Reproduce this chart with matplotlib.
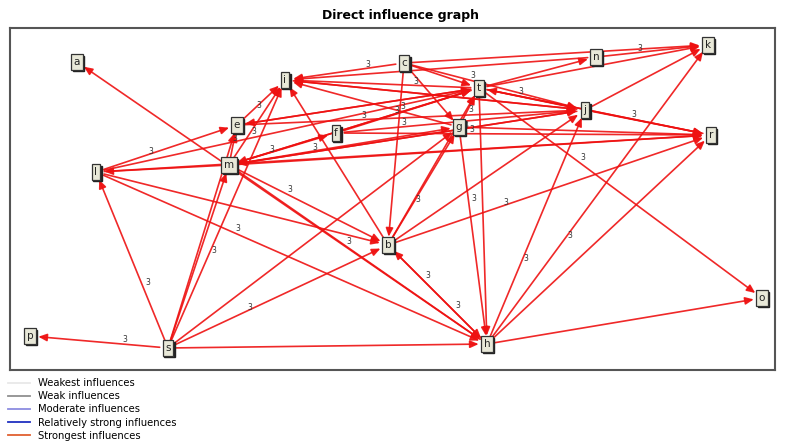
import matplotlib
matplotlib.use("Agg")
import matplotlib.pyplot as plt
from matplotlib.lines import Line2D

# node layout (pixel coordinates of the original drawing)
nodes = ["a", "i", "c", "n", "k", "t", "j", "g", "r", "e", "f", "m", "l", "b", "o", "p", "s", "h"]
node_x = [77, 285, 404, 596, 708, 479, 585, 459, 711, 237, 336, 229, 96, 388, 762, 30, 168, 487]
node_y = [62, 80, 63, 57, 45, 88, 110, 127, 135, 125, 133, 165, 172, 245, 298, 336, 348, 344]

# directed influences (source, target)
edges = [
    ("s", "p"), ("s", "h"), ("s", "l"), ("s", "m"), ("s", "i"), ("s", "g"), ("s", "b"), ("s", "e"),
    ("l", "e"), ("l", "b"), ("l", "h"), ("m", "l"),
    ("m", "i"), ("m", "e"), ("m", "f"), ("m", "t"), ("m", "g"), ("m", "r"), ("m", "b"), ("m", "h"),
    ("h", "a"), ("c", "k"), ("c", "i"), ("c", "t"), ("c", "b"), ("c", "g"), ("c", "j"),
    ("n", "i"), ("n", "k"), ("t", "n"), ("t", "j"), ("t", "r"), ("t", "i"), ("t", "e"),
    ("t", "m"), ("t", "k"), ("t", "o"), ("t", "h"),
    ("j", "r"), ("j", "k"), ("j", "m"), ("j", "i"), ("g", "t"), ("g", "r"), ("g", "h"),
    ("e", "t"), ("e", "i"), ("f", "t"), ("f", "r"), ("f", "j"),
    ("b", "g"), ("b", "t"), ("b", "r"), ("b", "j"), ("b", "h"), ("b", "i"),
    ("h", "k"), ("h", "r"), ("h", "j"), ("h", "o"), ("h", "b"), ("l", "r"),
    ("l", "t"), ("m", "j"), ("e", "j"), ("i", "j"), ("g", "i"), ("r", "t"),
]
edge_weight = [3] * len(edges)

legend_labels = ["Weakest influences", "Weak influences", "Moderate influences",
                 "Relatively strong influences", "Strongest influences"]
legend_colors = ["#e8e8e8", "#909090", "#8c8ce0", "#2030c0", "#e06030"]

pos = {n: (x, y) for n, x, y in zip(nodes, node_x, node_y)}

fig = plt.figure(figsize=(7.97, 4.47), dpi=100)
ax = fig.add_axes([10 / 797, 77 / 447, 765 / 797, 342 / 447])
ax.set_xlim(10, 775)
ax.set_ylim(370, 28)
ax.set_xticks([])
ax.set_yticks([])
for sp in ax.spines.values():
    sp.set_color("#555555")
    sp.set_linewidth(1.5)

for (src, dst), w in zip(edges, edge_weight):
    ax.annotate("", xy=pos[dst], xytext=pos[src],
                arrowprops=dict(arrowstyle="-|>,head_length=0.5,head_width=0.22",
                                color="#ee1111", lw=1.2, alpha=0.9,
                                shrinkA=6, shrinkB=6), zorder=2)

for i, ((src, dst), w) in enumerate(zip(edges, edge_weight)):
    if i % 2:
        continue
    f = 0.35
    xs, ys = pos[src]
    xd, yd = pos[dst]
    ax.text(xs + f * (xd - xs) + 5, ys + f * (yd - ys) - 4, str(w),
            fontsize=5.5, color="#333333", ha="center", va="center", zorder=3)

for n in nodes:
    x, y = pos[n]
    ax.text(x + 1.5, y + 1.5, n, fontsize=7.5, ha="center", va="center", color="#222222",
            bbox=dict(boxstyle="square,pad=0.25", fc="#222222", ec="#222222"), zorder=4)
    ax.text(x, y, n, fontsize=7.5, ha="center", va="center", color="#222222",
            bbox=dict(boxstyle="square,pad=0.25", fc="#e8e8d8", ec="#333333", lw=0.9), zorder=5)

fig.text(401 / 797, 1 - 16 / 447, "Direct influence graph", ha="center", va="center",
         fontsize=9, fontweight="bold")

handles = [Line2D([], [], color=c, lw=1.3) for c in legend_colors]
fig.legend(handles, legend_labels, loc="upper left", bbox_to_anchor=(8 / 797, 1 - 378 / 447),
           frameon=False, fontsize=7.2, handlelength=2.2, labelspacing=0.32,
           handletextpad=0.8, borderaxespad=0, borderpad=0)

fig.savefig("out.png", dpi=100)
